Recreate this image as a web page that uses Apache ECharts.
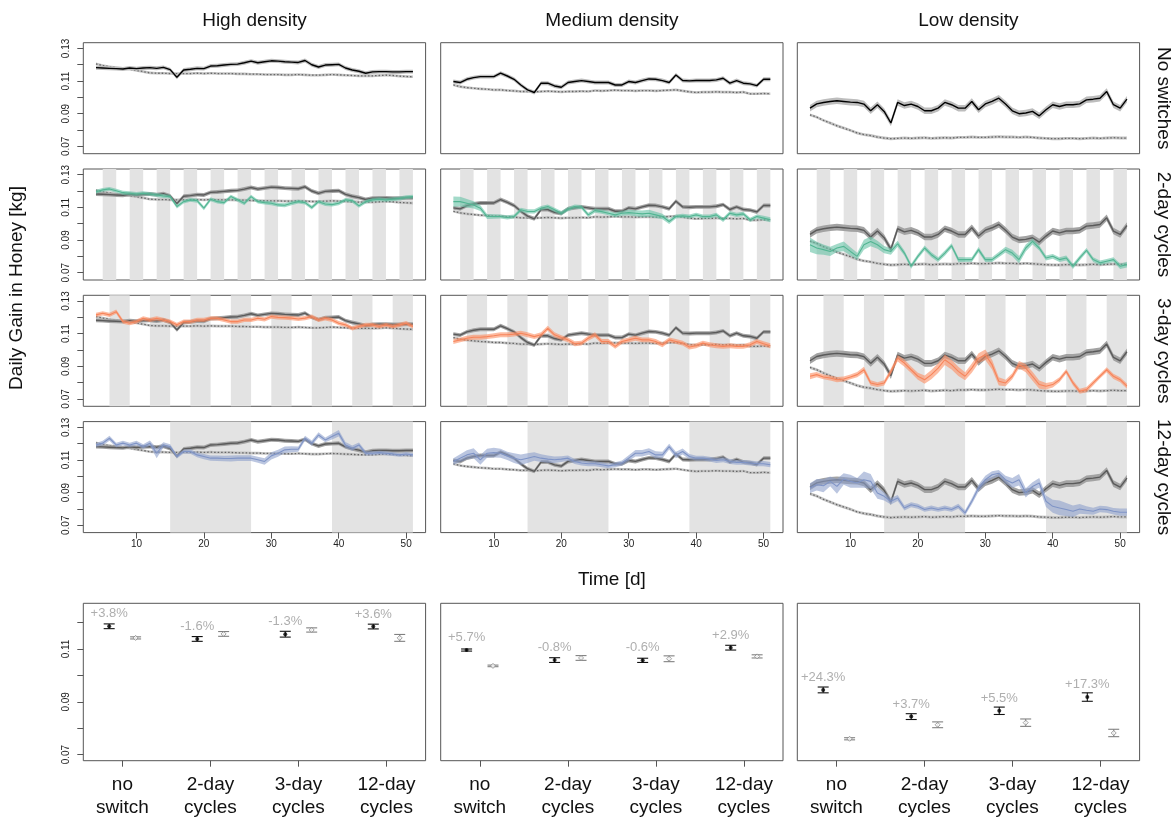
<!DOCTYPE html>
<html>
<head>
<meta charset="utf-8">
<script src="https://cdn.jsdelivr.net/npm/echarts@6/dist/echarts.min.js"></script>
<style>
html,body{margin:0;padding:0;background:#fff;}
#chart{width:1174px;height:820px;}
</style>
</head>
<body>
<div id="chart"></div>
<script>
// ---------------- DATA ----------------
const days = [4,5,6,7,8,9,10,11,12,13,14,15,16,17,18,19,20,21,22,23,24,25,26,27,28,29,30,31,32,33,34,35,36,37,38,39,40,41,42,43,44,45,46,47,48,49,50,51];
const densities = ['High density','Medium density','Low density'];
const treatments = ['No switches','2-day cycles','3-day cycles','12-day cycles'];

// High density
const highNoSwitch = [.1182,.1180,.1178,.1176,.1174,.1180,.1176,.1180,.1182,.1178,.1184,.1170,.1123,.1168,.1172,.1178,.1176,.1192,.1194,.1198,.1202,.1204,.1212,.1222,.1212,.1218,.1224,.1222,.1218,.1216,.1214,.1226,.1200,.1186,.1198,.1200,.1202,.1180,.1168,.1160,.1148,.1156,.1158,.1158,.1156,.1156,.1158,.1158];
const highRef = [.1205,.1195,.1188,.1182,.1178,.1172,.1165,.1158,.1150,.1148,.1148,.1146,.1146,.1146,.1146,.1148,.1146,.1148,.1146,.1146,.1146,.1144,.1144,.1142,.1142,.1140,.1140,.1140,.1138,.1138,.1140,.1138,.1136,.1136,.1138,.1140,.1138,.1136,.1134,.1132,.1132,.1132,.1134,.1136,.1134,.1130,.1128,.1126];
const high2day = [.1196,.1207,.1213,.1202,.1190,.1186,.1182,.1186,.1182,.1176,.1170,.1166,.1105,.1135,.1146,.1141,.1095,.1150,.1135,.1129,.1166,.1146,.1125,.1166,.1135,.1129,.1125,.1115,.1113,.1125,.1135,.1129,.1099,.1135,.1121,.1117,.1125,.1146,.1141,.1109,.1135,.1146,.1150,.1146,.1150,.1154,.1162,.1166];
const high3day = [.1215,.1225,.1215,.1235,.1174,.1164,.1174,.1194,.1184,.1194,.1184,.1174,.1154,.1174,.1174,.1184,.1184,.1194,.1194,.1184,.1174,.1174,.1184,.1184,.1194,.1188,.1205,.1200,.1198,.1195,.1190,.1195,.1204,.1184,.1194,.1184,.1164,.1154,.1133,.1144,.1154,.1154,.1144,.1154,.1144,.1154,.1164,.1144];
const high12day = [.1192,.1203,.1233,.1192,.1203,.1192,.1203,.1182,.1203,.1141,.1192,.1182,.1121,.1152,.1152,.1131,.1121,.1111,.1111,.1109,.1109,.1111,.1111,.1111,.1101,.1091,.1125,.1141,.1162,.1166,.1166,.1233,.1203,.1253,.1223,.1243,.1263,.1192,.1172,.1192,.1141,.1141,.1145,.1141,.1137,.1131,.1137,.1131];
const high12daySE = [.0012,.0015,.0016,.0014,.0015,.0014,.0015,.0014,.0016,.0030,.0016,.0014,.0012,.0012,.0014,.0015,.0016,.0016,.0017,.0017,.0018,.0018,.0018,.0018,.0018,.0020,.0022,.0022,.0020,.0018,.0016,.0015,.0016,.0016,.0015,.0018,.0020,.0018,.0016,.0015,.0014,.0012,.0012,.0012,.0012,.0012,.0012,.0012];

// Medium density
const medNoSwitch = [.1097,.1091,.1111,.1121,.1127,.1127,.1127,.1148,.1131,.1111,.1076,.1046,.1030,.1087,.1087,.1070,.1062,.1091,.1097,.1103,.1097,.1091,.1091,.1091,.1076,.1076,.1097,.1091,.1103,.1113,.1111,.1103,.1091,.1137,.1103,.1101,.1103,.1103,.1103,.1107,.1117,.1087,.1103,.1087,.1083,.1072,.1111,.1111];
const medRef = [.1076,.1066,.1060,.1056,.1052,.1050,.1046,.1046,.1042,.1040,.1036,.1036,.1034,.1036,.1038,.1036,.1034,.1036,.1036,.1038,.1036,.1042,.1040,.1042,.1044,.1042,.1042,.1040,.1042,.1042,.1040,.1042,.1044,.1046,.1040,.1034,.1030,.1032,.1032,.1034,.1032,.1032,.1030,.1032,.1022,.1022,.1024,.1022];
const med2day = [.1135,.1135,.1125,.1115,.1095,.1044,.1044,.1044,.1038,.1044,.1085,.1075,.1075,.1095,.1105,.1085,.1064,.1089,.1105,.1101,.1054,.1080,.1074,.1064,.1054,.1064,.1068,.1064,.1060,.1064,.1054,.1044,.1013,.1044,.1048,.1044,.1054,.1044,.1044,.1054,.1024,.1064,.1054,.1060,.1024,.1044,.1034,.1024];
const med2daySE = [.0032,.0030,.0026,.0022,.0018,.0016,.0014,.0013,.0013,.0013,.0013,.0013,.0013,.0013,.0013,.0013,.0013,.0013,.0013,.0013,.0013,.0013,.0013,.0013,.0014,.0015,.0017,.0019,.0021,.0021,.0019,.0017,.0015,.0013,.0013,.0013,.0013,.0013,.0013,.0013,.0013,.0013,.0013,.0013,.0013,.0013,.0015,.0015];
const med3day = [.1052,.1062,.1072,.1078,.1078,.1082,.1087,.1093,.1093,.1097,.1103,.1093,.1082,.1093,.1133,.1093,.1076,.1062,.1038,.1042,.1072,.1093,.1052,.1052,.1022,.1052,.1062,.1072,.1062,.1062,.1052,.1032,.1062,.1052,.1042,.1018,.1026,.1042,.1032,.1026,.1022,.1026,.1022,.1022,.1032,.1052,.1038,.1026];
const med12day = [.1091,.1111,.1131,.1141,.1101,.1141,.1145,.1141,.1125,.1111,.1101,.1111,.1121,.1111,.1105,.1101,.1105,.1111,.1091,.1081,.1077,.1077,.1071,.1064,.1071,.1081,.1111,.1141,.1141,.1152,.1131,.1131,.1182,.1131,.1152,.1121,.1111,.1111,.1105,.1097,.1101,.1091,.1085,.1085,.1081,.1077,.1077,.1071];
const med12daySE = [.0020,.0024,.0028,.0030,.0030,.0028,.0030,.0028,.0026,.0030,.0032,.0030,.0026,.0024,.0022,.0020,.0018,.0016,.0015,.0015,.0015,.0015,.0015,.0015,.0015,.0016,.0018,.0020,.0020,.0020,.0022,.0020,.0018,.0020,.0018,.0016,.0015,.0015,.0015,.0015,.0015,.0015,.0015,.0015,.0015,.0015,.0016,.0016];

// Low density
const lowNoSwitch = [.0934,.0960,.0969,.0975,.0979,.0975,.0971,.0969,.0959,.0918,.0955,.0914,.0843,.0969,.0950,.0959,.0944,.0918,.0918,.0934,.0969,.0955,.0934,.0934,.0975,.0924,.0960,.0975,.0995,.0960,.0918,.0900,.0904,.0914,.0887,.0924,.0955,.0944,.0955,.0955,.0960,.0985,.0989,.0995,.1036,.0955,.0934,.0989];
const lowRef = [.0893,.0879,.0859,.0843,.0826,.0812,.0798,.0782,.0772,.0766,.0757,.0751,.0747,.0749,.0751,.0749,.0751,.0753,.0749,.0751,.0753,.0751,.0755,.0755,.0757,.0755,.0755,.0757,.0759,.0757,.0757,.0755,.0757,.0755,.0751,.0749,.0747,.0747,.0749,.0749,.0747,.0749,.0751,.0749,.0751,.0753,.0751,.0751];
const low2day = [.0871,.0851,.0841,.0830,.0851,.0861,.0830,.0800,.0871,.0891,.0871,.0841,.0830,.0877,.0820,.0739,.0800,.0851,.0810,.0780,.0820,.0865,.0780,.0780,.0780,.0841,.0780,.0780,.0810,.0841,.0820,.0780,.0851,.0891,.0851,.0790,.0800,.0780,.0790,.0739,.0790,.0837,.0780,.0760,.0770,.0780,.0739,.0749];
const low2daySE = [.0045,.0038,.0032,.0028,.0025,.0030,.0025,.0022,.0030,.0030,.0025,.0022,.0020,.0018,.0016,.0015,.0015,.0016,.0015,.0015,.0016,.0015,.0016,.0015,.0015,.0016,.0015,.0014,.0016,.0018,.0020,.0022,.0022,.0018,.0016,.0015,.0015,.0014,.0015,.0016,.0015,.0014,.0015,.0015,.0014,.0015,.0016,.0018];
const low3day = [.0839,.0849,.0835,.0828,.0818,.0822,.0835,.0849,.0879,.0798,.0788,.0798,.0869,.0950,.0920,.0879,.0839,.0818,.0849,.0889,.0940,.0910,.0869,.0839,.0889,.0950,.0971,.0910,.0808,.0798,.0839,.0910,.0889,.0839,.0788,.0778,.0788,.0818,.0869,.0798,.0747,.0757,.0798,.0839,.0879,.0839,.0818,.0778];
const low3daySE = [.0018,.0016,.0015,.0015,.0016,.0015,.0015,.0016,.0018,.0016,.0015,.0016,.0018,.0020,.0022,.0020,.0022,.0025,.0028,.0030,.0032,.0030,.0028,.0025,.0028,.0030,.0032,.0030,.0025,.0020,.0018,.0022,.0025,.0028,.0025,.0020,.0018,.0015,.0015,.0016,.0015,.0016,.0015,.0014,.0015,.0016,.0015,.0016];
const low12day = [.0928,.0948,.0942,.0969,.0938,.0983,.0969,.0959,.0979,.0969,.0898,.0877,.0847,.0867,.0806,.0826,.0816,.0796,.0806,.0796,.0806,.0796,.0816,.0776,.0847,.0928,.0979,.1009,.1019,.0979,.0959,.0979,.0898,.0938,.0959,.0847,.0816,.0806,.0796,.0786,.0800,.0792,.0786,.0800,.0796,.0786,.0780,.0780];
const low12daySE = [.0030,.0035,.0040,.0030,.0045,.0035,.0040,.0030,.0050,.0045,.0035,.0025,.0020,.0018,.0016,.0015,.0015,.0014,.0015,.0014,.0015,.0014,.0015,.0016,.0018,.0022,.0025,.0022,.0020,.0025,.0030,.0035,.0028,.0025,.0030,.0035,.0040,.0045,.0040,.0035,.0030,.0025,.0022,.0020,.0020,.0020,.0022,.0022];

// Switching periods (shaded): start/end day
const bands2day = [[5,7],[9,11],[13,15],[17,19],[21,23],[25,27],[29,31],[33,35],[37,39],[41,43],[45,47],[49,51]];
const bands3day = [[6,9],[12,15],[18,21],[24,27],[30,33],[36,39],[42,45],[48,51]];
const bands12day = [[15,27],[39,51]];

// Summary panel
const groupLabels = ['no\nswitch','2-day\ncycles','3-day\ncycles','12-day\ncycles'];
const highTreat = [.1186,.1138,.1156,.1185], highTreatSE = [.0009,.0009,.0011,.0009];
const highCtrl  = [.1142,.1157,.1172,.1142], highCtrlSE  = [.0004,.0009,.0008,.0013];
const highPct = ['+3.8%','-1.6%','-1.3%','+3.6%'];
const medTreat = [.1096,.1058,.1057,.1105], medTreatSE = [.0004,.0009,.0008,.0009];
const medCtrl  = [.1036,.1066,.1063,.1072], medCtrlSE  = [.0003,.0009,.0011,.0006];
const medPct = ['+5.7%','-0.8%','-0.6%','+2.9%'];
const lowTreat = [.0945,.0844,.0866,.0918], lowTreatSE = [.0011,.0011,.0014,.0016];
const lowCtrl  = [.0760,.0813,.0821,.0782], lowCtrlSE  = [.0004,.0011,.0014,.0014];
const lowPct = ['+24.3%','+3.7%','+5.5%','+17.3%'];

const timeTicks = [10,20,30,40,50];
const yTicks = [0.07,0.08,0.09,0.10,0.11,0.12,0.13];
const yLabels = [0.07,0.09,0.11,0.13];
const yTicksSum = [0.07,0.08,0.09,0.10,0.11,0.12];
const yLabelsSum = [0.07,0.09,0.11];

// ---------------- LAYOUT / STYLE ----------------
const FONT = '"Liberation Sans", Arial, Helvetica, sans-serif';
const colLeft = [83.3, 440.7, 797.3], colW = 342.3;
const rowTop = [42.7, 169, 295.3, 421.6], rowH = 111;
const sumTop = 603.3, sumH = 157.4;
const frameColor = '#555';
const bandColor = '#e3e3e3';
const palette = {green:'#52b592', orange:'#f7845a', blue:'#7f94c6'};
const ribbonAlpha = {green:'rgba(102,194,165,0.6)', orange:'rgba(252,141,98,0.6)', blue:'rgba(141,160,203,0.6)'};

const cols = [
  {ns: highNoSwitch, nsSE: .0012, ref: highRef, refSE: .0008, tr: [[high2day,.0012,'green'],[high3day,.0013,'orange'],[high12day,high12daySE,'blue']]},
  {ns: medNoSwitch, nsSE: .0012, ref: medRef, refSE: .0008, tr: [[med2day,med2daySE,'green'],[med3day,.0015,'orange'],[med12day,med12daySE,'blue']]},
  {ns: lowNoSwitch, nsSE: .0020, ref: lowRef, refSE: .0009, tr: [[low2day,low2daySE,'green'],[low3day,low3daySE,'orange'],[low12day,low12daySE,'blue']]}
];
const bandSets = [bands2day, bands3day, bands12day];
const sums = [
  [highTreat, highTreatSE, highCtrl, highCtrlSE, highPct],
  [medTreat, medTreatSE, medCtrl, medCtrlSE, medPct],
  [lowTreat, lowTreatSE, lowCtrl, lowCtrlSE, lowPct]
];

const seAt = (se, i) => Array.isArray(se) ? se[i] : se;

const grids = [], xAxes = [], yAxes = [], series = [];

function ribbon(gi, ys, se, fill, z) {
  const lo = ys.map((v,i) => v - seAt(se,i));
  const hi = ys.map((v,i) => v + seAt(se,i));
  return {
    type: 'custom', xAxisIndex: gi, yAxisIndex: gi, z: z, silent: true, animation: false,
    data: days.map((d,i) => [d, lo[i], hi[i]]),
    encode: {x: 0, y: [1, 2]},
    renderItem: function (params, api) {
      if (params.dataIndex !== 0) return null;
      const pts = [];
      for (let i = 0; i < days.length; i++) pts.push(api.coord([days[i], hi[i]]));
      for (let i = days.length - 1; i >= 0; i--) pts.push(api.coord([days[i], lo[i]]));
      return {type: 'polygon', shape: {points: pts}, style: {fill: fill, stroke: null}};
    }
  };
}
function line(gi, ys, color, width, z, dash) {
  return {
    type: 'line', xAxisIndex: gi, yAxisIndex: gi, z: z, silent: true, animation: false,
    symbol: 'none', data: days.map((d,i) => [d, ys[i]]),
    lineStyle: {color: color, width: width, type: dash || 'solid'}
  };
}
function bandSeries(gi, bands) {
  return {
    type: 'custom', xAxisIndex: gi, yAxisIndex: gi, z: 0, silent: true, animation: false,
    data: bands.map(b => [b[0], b[1]]),
    encode: {x: [0, 1]},
    renderItem: function (params, api) {
      const cs = params.coordSys;
      const x0 = api.coord([api.value(0), 0.1])[0];
      const x1 = api.coord([api.value(1), 0.1])[0];
      return {type: 'rect', shape: {x: x0, y: cs.y, width: x1 - x0, height: cs.height}, style: {fill: bandColor}};
    }
  };
}

// time-series panels
for (let r = 0; r < 4; r++) {
  for (let c = 0; c < 3; c++) {
    const gi = grids.length;
    grids.push({left: colLeft[c], top: rowTop[r], width: colW, height: rowH, show: true,
      borderColor: frameColor, borderWidth: 1, backgroundColor: 'transparent'});
    xAxes.push({
      type: 'value', gridIndex: gi, min: 2.12, max: 52.88,
      axisLine: {show: false}, splitLine: {show: false},
      axisTick: {show: r === 3, customValues: timeTicks, length: 6, lineStyle: {color: frameColor}},
      axisLabel: {show: r === 3, customValues: timeTicks, fontSize: 10, margin: 7, color: '#222', fontFamily: FONT}
    });
    yAxes.push({
      type: 'value', gridIndex: gi, min: 0.0655, max: 0.1335,
      axisLine: {show: false}, splitLine: {show: false},
      axisTick: {show: c === 0, customValues: yTicks, length: 6, lineStyle: {color: frameColor}},
      axisLabel: {show: c === 0, customValues: yLabels, rotate: 90, margin: 12, fontSize: 10, color: '#222', fontFamily: FONT,
        formatter: v => v.toFixed(2)}
    });
    const col = cols[c];
    if (r > 0) series.push(bandSeries(gi, bandSets[r - 1]));
    const nsLine = r === 0 ? '#000' : '#5a5a5a';
    const nsRib = r === 0 ? '#bdbdbd' : '#a3a3a3';
    series.push(ribbon(gi, col.ref, col.refSE, '#c3c3c3', 1));
    series.push(line(gi, col.ref, '#666', 1.3, 2, [1.5, 2]));
    series.push(ribbon(gi, col.ns, col.nsSE, nsRib, 3));
    series.push(line(gi, col.ns, nsLine, 1.4, 4));
    if (r > 0) {
      const t = col.tr[r - 1];
      series.push(ribbon(gi, t[0], t[1], ribbonAlpha[t[2]], 5));
      series.push(line(gi, t[0], palette[t[2]], 1.1, 6));
    }
  }
}

// summary panels
for (let c = 0; c < 3; c++) {
  const gi = grids.length;
  grids.push({left: colLeft[c], top: sumTop, width: colW, height: sumH, show: true,
    borderColor: frameColor, borderWidth: 1, backgroundColor: 'transparent'});
  xAxes.push({
    type: 'value', gridIndex: gi, min: 0.556, max: 4.444,
    axisLine: {show: false}, splitLine: {show: false},
    axisTick: {show: true, customValues: [1,2,3,4], length: 6, lineStyle: {color: frameColor}},
    axisLabel: {show: true, customValues: [1,2,3,4], fontSize: 19, lineHeight: 23, margin: 13, color: '#111', fontFamily: FONT,
      formatter: v => groupLabels[Math.round(v) - 1]}
  });
  yAxes.push({
    type: 'value', gridIndex: gi, min: 0.0677, max: 0.1273,
    axisLine: {show: false}, splitLine: {show: false},
    axisTick: {show: c === 0, customValues: yTicksSum, length: 6, lineStyle: {color: frameColor}},
    axisLabel: {show: c === 0, customValues: yLabelsSum, rotate: 90, margin: 12, fontSize: 10, color: '#222', fontFamily: FONT,
      formatter: v => v.toFixed(2)}
  });
  const [tm, tse, cm, cse, pct] = sums[c];
  const errSeries = (means, ses, shift, color) => ({
    type: 'custom', xAxisIndex: gi, yAxisIndex: gi, z: 3, silent: true, animation: false,
    data: means.map((m,i) => [i + 1 + shift, m - ses[i], m + ses[i]]),
    encode: {x: 0, y: [1, 2]},
    renderItem: function (params, api) {
      const p0 = api.coord([api.value(0), api.value(1)]);
      const p1 = api.coord([api.value(0), api.value(2)]);
      const hw = 5.5;
      const st = {stroke: color, lineWidth: 1.1};
      return {type: 'group', children: [
        {type: 'line', shape: {x1: p0[0], y1: p0[1], x2: p1[0], y2: p1[1]}, style: st},
        {type: 'line', shape: {x1: p0[0] - hw, y1: p0[1], x2: p0[0] + hw, y2: p0[1]}, style: st},
        {type: 'line', shape: {x1: p1[0] - hw, y1: p1[1], x2: p1[0] + hw, y2: p1[1]}, style: st}
      ]};
    }
  });
  series.push(errSeries(tm, tse, -0.15, '#111'));
  series.push(errSeries(cm, cse, 0.15, '#808080'));
  series.push({
    type: 'scatter', xAxisIndex: gi, yAxisIndex: gi, z: 4, silent: true, animation: false,
    symbol: 'circle', symbolSize: 4, itemStyle: {color: '#000'},
    data: tm.map((m,i) => ({value: [i + 1 - 0.15, m], label: {formatter: pct[i]}})),
    label: {show: true, position: 'top', distance: 4, fontSize: 13, color: '#9a9a9a', fontFamily: FONT}
  });
  series.push({
    type: 'scatter', xAxisIndex: gi, yAxisIndex: gi, z: 4, silent: true, animation: false,
    symbol: 'diamond', symbolSize: 5, itemStyle: {color: '#fff', borderColor: '#888', borderWidth: 1},
    data: cm.map((m,i) => [i + 1 + 0.15, m])
  });
}

// texts
const txt = (text, x, y, size, rot) => ({
  type: 'text', x: x, y: y, rotation: rot || 0, silent: true,
  style: {text: text, fontSize: size, fontFamily: FONT, fill: '#111',
    align: 'center', verticalAlign: 'middle', textAlign: 'center', textVerticalAlign: 'middle'}
});
const graphics = [];
densities.forEach((d, c) => graphics.push(txt(d, colLeft[c] + colW / 2, 21, 19)));
treatments.forEach((t, r) => graphics.push(txt(t, 1163, rowTop[r] + rowH / 2, 19, -Math.PI / 2)));
graphics.push(txt('Time [d]', colLeft[1] + colW / 2, 580, 19));
graphics.push(txt('Daily Gain in Honey [kg]', 17, 288, 19, Math.PI / 2));

const chart = echarts.init(document.getElementById('chart'), null, {renderer: 'canvas'});
chart.setOption({
  animation: false,
  backgroundColor: '#fff',
  grid: grids, xAxis: xAxes, yAxis: yAxes, series: series,
  graphic: graphics
});
</script>
</body>
</html>
